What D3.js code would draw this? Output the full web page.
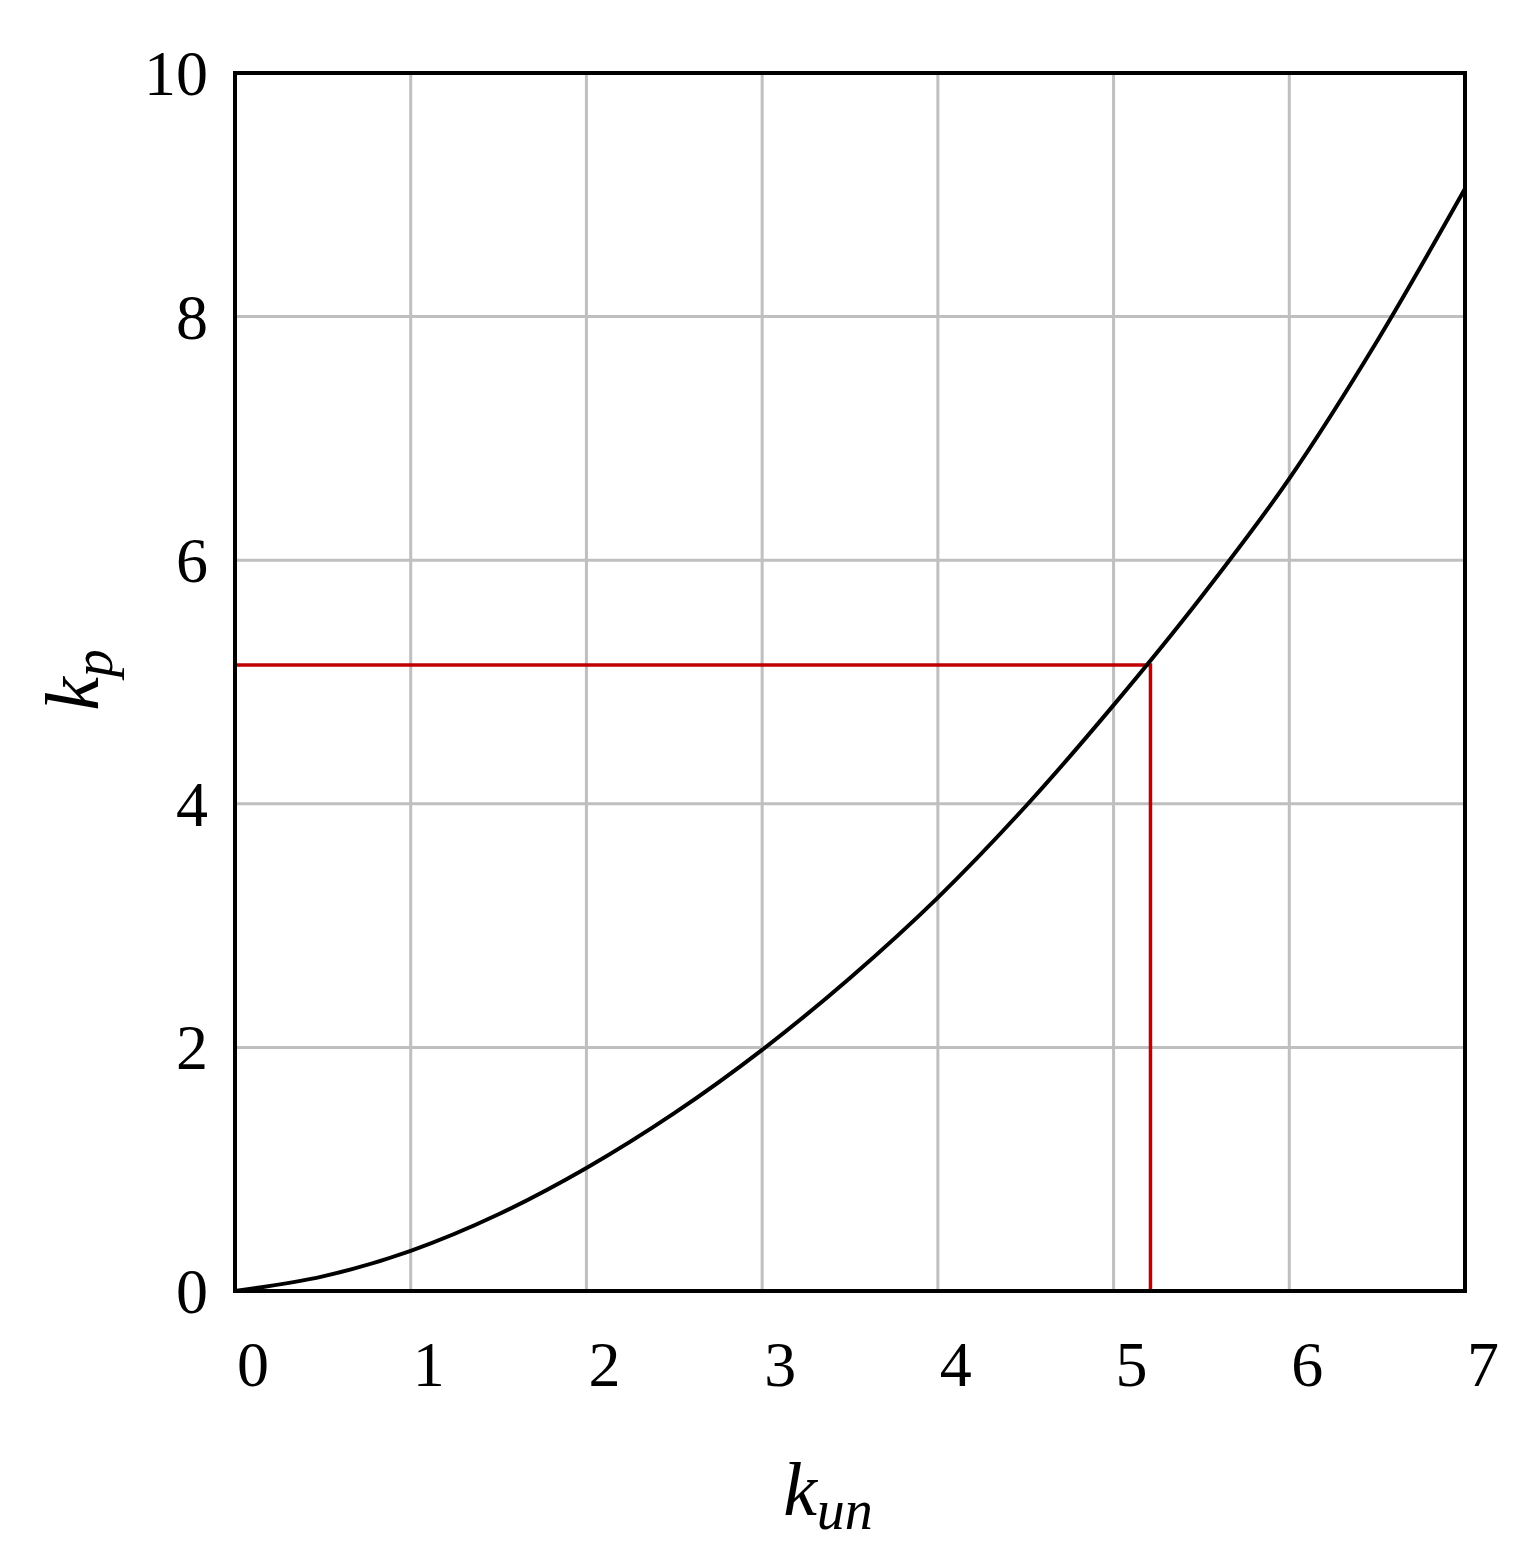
<!DOCTYPE html>
<html><head><meta charset="utf-8">
<script src="https://cdn.jsdelivr.net/npm/d3@7"></script>
<style>body{margin:0;background:#fff}</style>
</head><body>
<svg id="c" width="1523" height="1567"></svg>
<script>
// curve k_p vs k_un
const kun = [0, 0.5, 1, 1.5, 2, 2.5, 3, 3.5, 4, 4.5, 5, 5.5, 6, 6.5, 7];
const kp  = [0, 0.12, 0.33, 0.63, 1.01, 1.46, 1.98, 2.57, 3.23, 3.98, 4.81, 5.7, 6.67, 7.8, 9.05];
const marker = {x: 5.21, y: 5.14};
const xTicks = [0, 1, 2, 3, 4, 5, 6, 7];
const yTicks = [0, 2, 4, 6, 8, 10];

const svg = d3.select("#c");
const font = "'Liberation Serif','DejaVu Serif',serif";
const x = d3.scaleLinear().domain([0, 7]).range([235, 1465]);
const y = d3.scaleLinear().domain([0, 10]).range([1291, 73]);

// grid
svg.append("g").selectAll("line").data(xTicks.slice(1, -1)).enter().append("line")
  .attr("x1", d => x(d)).attr("x2", d => x(d)).attr("y1", y(0)).attr("y2", y(10))
  .attr("stroke", "#bfbfbf").attr("stroke-width", 3);
svg.append("g").selectAll("line").data(yTicks.slice(1, -1)).enter().append("line")
  .attr("y1", d => y(d)).attr("y2", d => y(d)).attr("x1", x(0)).attr("x2", x(7))
  .attr("stroke", "#bfbfbf").attr("stroke-width", 3);

// red marker lines
svg.append("path")
  .attr("d", `M${x(0)},${y(marker.y)}H${x(marker.x)}V${y(0)}`)
  .attr("fill", "none").attr("stroke", "#c00000").attr("stroke-width", 3.5);

// curve
const pts = kun.map((d, i) => [d, kp[i]]);
svg.append("path").datum(pts)
  .attr("d", d3.line().x(d => x(d[0])).y(d => y(d[1])).curve(d3.curveMonotoneX))
  .attr("fill", "none").attr("stroke", "#000").attr("stroke-width", 4);

// frame
svg.append("rect").attr("x", x(0)).attr("y", y(10))
  .attr("width", x(7) - x(0)).attr("height", y(0) - y(10))
  .attr("fill", "none").attr("stroke", "#000").attr("stroke-width", 4);

// tick labels
svg.append("g").selectAll("text").data(xTicks).enter().append("text")
  .attr("x", d => x(d) + 18).attr("y", 1386)
  .attr("text-anchor", "middle").attr("font-family", font).attr("font-size", 64)
  .text(d => d);
svg.append("g").selectAll("text").data(yTicks).enter().append("text")
  .attr("x", 208).attr("y", d => y(d) + 22)
  .attr("text-anchor", "end").attr("font-family", font).attr("font-size", 64)
  .text(d => d);

// axis titles
const xt = svg.append("text").attr("x", 828).attr("y", 1515)
  .attr("text-anchor", "middle").attr("font-family", font).attr("font-style", "italic").attr("font-size", 76);
xt.append("tspan").text("k");
xt.append("tspan").attr("font-size", 56).attr("dy", 14).text("un");

const yt = svg.append("text").attr("transform", "translate(98,680) rotate(-90)")
  .attr("text-anchor", "middle").attr("font-family", font).attr("font-style", "italic").attr("font-size", 76);
yt.append("tspan").text("k");
yt.append("tspan").attr("font-size", 56).attr("dy", 14).text("p");
</script>
</body></html>
